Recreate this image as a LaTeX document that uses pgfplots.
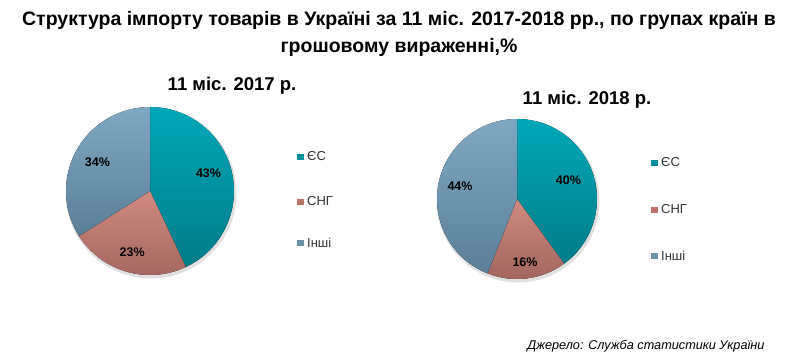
\documentclass[border=0pt]{standalone}
\usepackage{pgfplots}
\usepackage{pgfplotstable}
\pgfplotsset{compat=1.18}
\usetikzlibrary{calc}
\usepackage{fontspec}
\setmainfont{Liberation Sans}

\definecolor{esTop}{HTML}{00A8B8}
\definecolor{esBot}{HTML}{007C88}
\definecolor{sngTop}{HTML}{D08A80}
\definecolor{sngBot}{HTML}{A0645C}
\definecolor{inTop}{HTML}{80A8C2}
\definecolor{inBot}{HTML}{5A7E98}
\definecolor{esLeg}{HTML}{00909C}
\definecolor{sngLeg}{HTML}{BA7269}
\definecolor{inLeg}{HTML}{6B91AB}

\pgfplotstableread{
group y2017 y2018
ES    43    40
SNG   23    16
Inshi 34    44
}\importdata

\begin{document}
\begin{tikzpicture}
\pgfplotstablegetelem{0}{y2017}\of\importdata \let\pA\pgfplotsretval
\pgfplotstablegetelem{1}{y2017}\of\importdata \let\pB\pgfplotsretval
\pgfplotstablegetelem{2}{y2017}\of\importdata \let\pC\pgfplotsretval
\pgfplotstablegetelem{0}{y2018}\of\importdata \let\qA\pgfplotsretval
\pgfplotstablegetelem{1}{y2018}\of\importdata \let\qB\pgfplotsretval
\pgfplotstablegetelem{2}{y2018}\of\importdata \let\qC\pgfplotsretval
\pgfmathsetmacro\pAe{90-3.6*\pA}
\pgfmathsetmacro\pBe{\pAe-3.6*\pB}
\pgfmathsetmacro\pCe{\pBe-3.6*\pC}
\pgfmathsetmacro\pAm{(90+\pAe)/2}
\pgfmathsetmacro\pBm{(\pAe+\pBe)/2}
\pgfmathsetmacro\pCm{(\pBe+\pCe)/2}
\pgfmathsetmacro\qAe{90-3.6*\qA}
\pgfmathsetmacro\qBe{\qAe-3.6*\qB}
\pgfmathsetmacro\qCe{\qBe-3.6*\qC}
\pgfmathsetmacro\qAm{(90+\qAe)/2}
\pgfmathsetmacro\qBm{(\qAe+\qBe)/2}
\pgfmathsetmacro\qCm{(\qBe+\qCe)/2}
\begin{axis}[
  width=798pt, height=359pt, scale only axis,
  xmin=0, xmax=798, ymin=0, ymax=359, y dir=reverse,
  hide axis, clip=false,
]
% bounding area
\addplot[draw=none, forget plot] coordinates {(0,0) (798,359)};
% Title
\node[font=\bfseries\fontsize{19.5}{27}\selectfont, align=center, text=black]
  at (axis cs:399,34) {Структура імпорту товарів в Україні за 11 міс. 2017-2018 рр., по групах країн в\\грошовому вираженні,\%};
% Subtitles
\node[font=\bfseries\fontsize{18.5}{20}\selectfont] at (axis cs:232,86) {11 міс. 2017 р.};
\node[font=\bfseries\fontsize{18.5}{20}\selectfont] at (axis cs:587,100) {11 міс. 2018 р.};

% Pie 1 (r = 84)
\fill[black!12] (axis cs:151,193) circle[radius=85.5pt];
\fill[top color=esTop, bottom color=esBot] (axis cs:150,191) -- ++(90:84pt) arc[start angle=90, end angle=\pAe, radius=84pt] -- cycle;
\fill[top color=sngTop, bottom color=sngBot] (axis cs:150,191) -- ++(\pAe:84pt) arc[start angle=\pAe, end angle=\pBe, radius=84pt] -- cycle;
\fill[top color=inTop, bottom color=inBot] (axis cs:150,191) -- ++(\pBe:84pt) arc[start angle=\pBe, end angle=\pCe, radius=84pt] -- cycle;
\node[font=\bfseries\fontsize{12.5}{14}\selectfont] at ($(axis cs:150,191)+(\pAm:60pt)+(0,5pt)$) {\pA\%};
\node[font=\bfseries\fontsize{12.5}{14}\selectfont] at ($(axis cs:150,191)+(\pBm:64pt)$) {\pB\%};
\node[font=\bfseries\fontsize{12.5}{14}\selectfont] at ($(axis cs:150,191)+(\pCm:60pt)$) {\pC\%};

% Pie 2 (r = 80)
\fill[black!12] (axis cs:518,201) circle[radius=81.5pt];
\fill[top color=esTop, bottom color=esBot] (axis cs:517,199) -- ++(90:80pt) arc[start angle=90, end angle=\qAe, radius=80pt] -- cycle;
\fill[top color=sngTop, bottom color=sngBot] (axis cs:517,199) -- ++(\qAe:80pt) arc[start angle=\qAe, end angle=\qBe, radius=80pt] -- cycle;
\fill[top color=inTop, bottom color=inBot] (axis cs:517,199) -- ++(\qBe:80pt) arc[start angle=\qBe, end angle=\qCe, radius=80pt] -- cycle;
\node[font=\bfseries\fontsize{12.5}{14}\selectfont] at ($(axis cs:517,199)+(\qAm:54pt)+(0,2pt)$) {\qA\%};
\node[font=\bfseries\fontsize{12.5}{14}\selectfont] at ($(axis cs:517,199)+(\qBm:64pt)$) {\qB\%};
\node[font=\bfseries\fontsize{12.5}{14}\selectfont] at ($(axis cs:517,199)+(\qCm:58pt)+(0,2pt)$) {\qC\%};

% Legend 1
\fill[esLeg]  (axis cs:297,153.5) rectangle (axis cs:303.5,160);
\fill[sngLeg] (axis cs:297,198.5) rectangle (axis cs:303.5,205);
\fill[inLeg]  (axis cs:297,239.5) rectangle (axis cs:303.5,246);
\node[anchor=west, font=\fontsize{13}{15}\selectfont, text=black!80, inner sep=0pt] at (axis cs:307,156.5) {ЄС};
\node[anchor=west, font=\fontsize{13}{15}\selectfont, text=black!80, inner sep=0pt] at (axis cs:307,201.5) {СНГ};
\node[anchor=west, font=\fontsize{13}{15}\selectfont, text=black!80, inner sep=0pt] at (axis cs:307,242.5) {Інші};
% Legend 2
\fill[esLeg]  (axis cs:651,159.5) rectangle (axis cs:657.5,166);
\fill[sngLeg] (axis cs:651,206.5) rectangle (axis cs:657.5,213);
\fill[inLeg]  (axis cs:651,252.5) rectangle (axis cs:657.5,259);
\node[anchor=west, font=\fontsize{13}{15}\selectfont, text=black!80, inner sep=0pt] at (axis cs:661,162.5) {ЄС};
\node[anchor=west, font=\fontsize{13}{15}\selectfont, text=black!80, inner sep=0pt] at (axis cs:661,209.5) {СНГ};
\node[anchor=west, font=\fontsize{13}{15}\selectfont, text=black!80, inner sep=0pt] at (axis cs:661,255.5) {Інші};
% Source
\node[anchor=east, font=\itshape\fontsize{12.7}{14}\selectfont] at (axis cs:768,346) {Джерело: Служба статистики України};
\end{axis}
\end{tikzpicture}
\end{document}
